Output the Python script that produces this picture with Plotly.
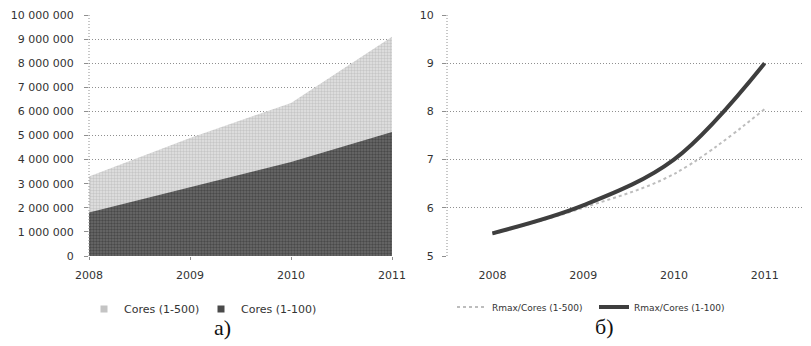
import plotly.graph_objects as go

years = [2008, 2009, 2010, 2011]
year_labels = ["2008", "2009", "2010", "2011"]
cores_500 = [3300000, 4900000, 6350000, 9100000]
cores_100 = [1800000, 2850000, 3900000, 5150000]
rmax_500 = [5.45, 6.0, 6.7, 8.05]
rmax_100 = [5.47, 6.05, 7.0, 9.0]

left_ticks = [0, 1000000, 2000000, 3000000, 4000000, 5000000, 6000000,
              7000000, 8000000, 9000000, 10000000]
left_ticktext = ["0", "1 000 000", "2 000 000", "3 000 000", "4 000 000",
                 "5 000 000", "6 000 000", "7 000 000", "8 000 000",
                 "9 000 000", "10 000 000"]
right_ticks = [5, 6, 7, 8, 9, 10]

# page is 811x346; the html body has an 8px margin
OFF = 8
W, H = 811 - OFF, 346 - OFF


def px(x):
    return (x - OFF) / W


def py(y):
    return 1 - (y - OFF) / H


FONT = "DejaVu Sans"
TXT = "#333333"
GRID = "#8f8f8f"
DOT = "1px,2px"
LIGHT = "#cdcdcd"
DARK = "#484848"

fig = go.Figure()

fig.add_trace(go.Scatter(
    x=years, y=cores_500, name="Cores (1-500)", mode="lines",
    line=dict(width=0, color=LIGHT), fill="tozeroy", fillcolor=LIGHT,
    fillpattern=dict(shape=".", fgcolor="#a8a8a8", bgcolor="#e4e4e4",
                     size=3, solidity=0.5),
    xaxis="x", yaxis="y", showlegend=False))
fig.add_trace(go.Scatter(
    x=years, y=cores_100, name="Cores (1-100)", mode="lines",
    line=dict(width=0, color=DARK), fill="tozeroy", fillcolor=DARK,
    fillpattern=dict(shape=".", fgcolor="#262626", bgcolor="#6c6c6c",
                     size=3, solidity=0.5),
    xaxis="x", yaxis="y", showlegend=False))
# legend keys for the area chart (small squares, as in the original)
fig.add_trace(go.Scatter(
    x=[None], y=[None], name="Cores (1-500)", mode="markers",
    marker=dict(symbol="square", size=7, color="#c4c4c4"),
    xaxis="x", yaxis="y", legend="legend"))
fig.add_trace(go.Scatter(
    x=[None], y=[None], name="Cores (1-100)", mode="markers",
    marker=dict(symbol="square", size=7, color="#4a4a4a"),
    xaxis="x", yaxis="y", legend="legend"))

fig.add_trace(go.Scatter(
    x=year_labels, y=rmax_500, name="Rmax/Cores (1-500)", mode="lines",
    line=dict(width=2, color="#bdbdbd", dash="dot", shape="spline"),
    xaxis="x2", yaxis="y2", legend="legend2"))
fig.add_trace(go.Scatter(
    x=year_labels, y=rmax_100, name="Rmax/Cores (1-100)", mode="lines",
    line=dict(width=4, color="#3e3e3e", shape="spline"),
    xaxis="x2", yaxis="y2", legend="legend2"))

axis_font = dict(family=FONT, size=11, color=TXT)

fig.update_layout(
    width=W, height=H,
    margin=dict(l=0, r=0, t=0, b=0, autoexpand=False),
    paper_bgcolor="white", plot_bgcolor="white",
    showlegend=True,
    xaxis=dict(domain=[px(89), px(392)], range=[2008, 2011],
               tickvals=years, ticktext=year_labels, tickfont=axis_font,
               showgrid=False, zeroline=False, showline=False,
               ticks="outside", ticklen=3, tickcolor=GRID, anchor="y",
               automargin=False, ticklabelstandoff=6),
    yaxis=dict(domain=[py(256), py(15)], range=[0, 10000000],
               tickvals=left_ticks, ticktext=left_ticktext,
               tickfont=axis_font, showgrid=True, gridcolor=GRID,
               griddash=DOT, gridwidth=1, zeroline=False, showline=False,
               ticks="outside", ticklen=4, tickcolor=GRID, anchor="x",
               automargin=False, ticklabelstandoff=8),
    xaxis2=dict(domain=[px(447), px(810)], range=[-0.5, 3.5],
                type="category", tickfont=axis_font, showgrid=False,
                zeroline=False, showline=False, anchor="y2",
                automargin=False, ticklabelstandoff=11),
    yaxis2=dict(domain=[py(256), py(15)], range=[5, 10],
                tickvals=right_ticks, tickfont=axis_font, showgrid=True,
                gridcolor=GRID, griddash=DOT, gridwidth=1, zeroline=False,
                showline=False, ticks="outside", ticklen=4, tickcolor=GRID,
                anchor="x2", automargin=False, ticklabelstandoff=6),
    legend=dict(x=px(84), y=py(309), xanchor="left", yanchor="middle",
                orientation="h", font=dict(family=FONT, size=11, color=TXT),
                bgcolor="rgba(0,0,0,0)", itemwidth=30, traceorder="normal",
                entrywidth=72),
    legend2=dict(x=px(452), y=py(307), xanchor="left", yanchor="middle",
                 orientation="h", font=dict(family=FONT, size=9, color=TXT),
                 bgcolor="rgba(0,0,0,0)", itemwidth=30, traceorder="normal",
                 entrywidth=97),
    shapes=[
        dict(type="line", xref="x domain", yref="y domain", x0=0, x1=0,
             y0=0, y1=1, line=dict(color=GRID, width=1, dash=DOT)),
        dict(type="line", xref="x2 domain", yref="y2 domain", x0=0, x1=0,
             y0=0, y1=1, line=dict(color=GRID, width=1, dash=DOT)),
    ],
    annotations=[
        dict(text="a)", x=px(212), y=py(342), xref="paper", yref="paper",
             showarrow=False, font=dict(family="Liberation Serif", size=22,
                                        color="#111111")),
        dict(text="б)", x=px(616), y=py(341), xref="paper", yref="paper",
             showarrow=False, font=dict(family="Liberation Serif", size=22,
                                        color="#111111")),
    ],
)

fig.write_html("out.html")
